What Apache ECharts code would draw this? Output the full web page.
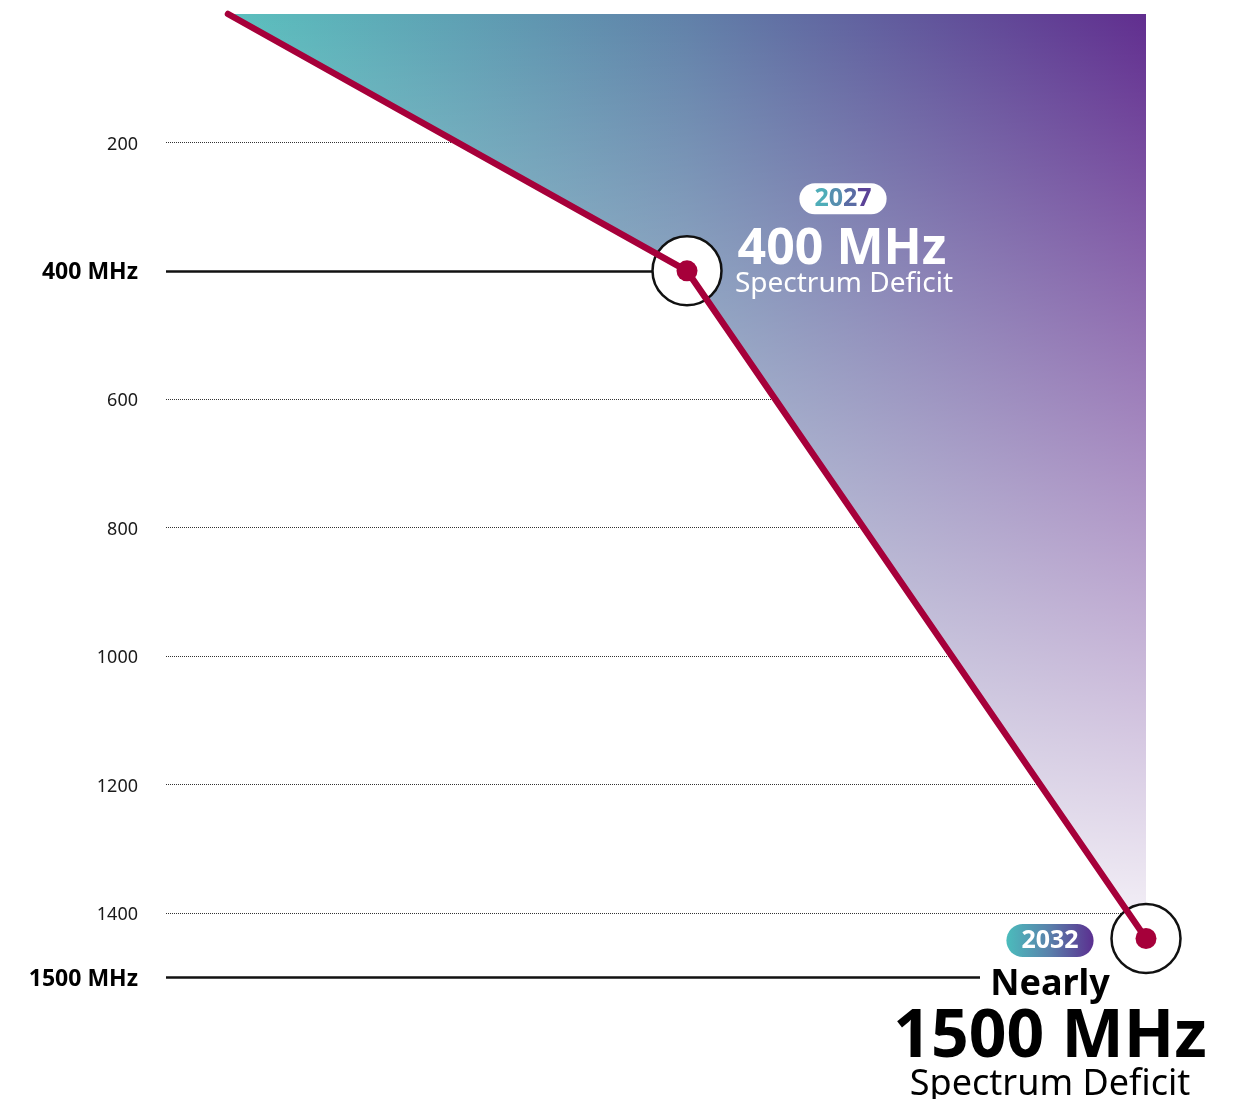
<!DOCTYPE html>
<html>
<head>
<meta charset="utf-8">
<script src="https://cdn.jsdelivr.net/npm/echarts@6/dist/echarts.min.js"></script>
<style>
  html, body { margin: 0; padding: 0; background: #fff; }
  #chart { width: 1238px; height: 1099px; }
</style>
</head>
<body>
<div id="chart"></div>
<script>
// Projected spectrum deficit (MHz) by year
const years = [2022, 2027, 2032];
const deficit = [0, 400, 1440];

// Value-axis reference levels and their labels
const tickValues = [200, 400, 600, 800, 1000, 1200, 1400, 1500];
const tickLabels = ['200', '400 MHz', '600', '800', '1000', '1200', '1400', '1500 MHz'];
const keyLevels = [400, 1500];

// Callout text for the highlighted years
const yearBadges = ['2027', '2032'];
const headlines = ['400 MHz', '1500 MHz'];
const qualifier = 'Nearly';
const caption = 'Spectrum Deficit';

const FONT = '"Noto Sans", "Open Sans", sans-serif';
const CRIMSON = '#a6003a';
const INK = '#111';
const HUE_STOPS = ['#5bc0be', '#6181a9', '#612e8f'];
const BADGE_STOPS = ['#4bbcbc', '#5a80ab', '#5b2f90'];

function hGrad(stops) {
  return new echarts.graphic.LinearGradient(0, 0, 1, 0,
    stops.map((c, i) => ({ offset: i / (stops.length - 1), color: c })));
}

const points = years.map((y, i) => [y, deficit[i]]);
const lastYear = years[years.length - 1];

// Horizontal reference lines: dotted guides, solid rules for the key levels
const guideLines = tickValues.map((v, i) => {
  const key = keyLevels.indexOf(v) >= 0;
  let end;
  const hit = deficit.indexOf(v);
  if (key && hit >= 0) end = { xAxis: years[hit], yAxis: v };
  else if (key) end = { x: 980, yAxis: v };
  else end = { xAxis: lastYear, yAxis: v };
  return [{
    x: 166,
    yAxis: v,
    lineStyle: key
      ? { color: INK, width: 2.5, type: 'solid' }
      : { color: '#333', width: 1, type: 'dotted' },
    label: {
      show: true,
      position: 'start',
      distance: 28,
      offset: [0, 2],
      formatter: tickLabels[i],
      fontFamily: FONT,
      fontSize: key ? 23 : 18,
      fontWeight: key ? 'bold' : 'normal',
      color: key ? '#000' : '#1a1a1a'
    }
  }, end];
});

// Year text tinted character by character along the teal-to-purple ramp
function tintedBadge(text, fontSize) {
  const rich = {};
  const parts = text.split('').map((ch, i) => {
    const t = (i + 0.5) / text.length;
    rich['c' + i] = {
      color: echarts.color.lerp(t, BADGE_STOPS),
      fontSize: fontSize, fontWeight: 'bold', fontFamily: FONT
    };
    return '{c' + i + '|' + ch + '}';
  });
  return { formatter: parts.join(''), rich: rich };
}

function note(idx, text, offset, style) {
  return {
    coord: points[idx],
    value: text,
    label: Object.assign({
      show: true,
      position: 'inside',
      offset: offset,
      formatter: text,
      align: 'center',
      verticalAlign: 'middle',
      fontFamily: FONT
    }, style)
  };
}

const callouts = [
  note(1, yearBadges[0], [156, -72], Object.assign({
    fontSize: 25, fontWeight: 'bold',
    backgroundColor: '#fff', borderRadius: 16, padding: [0, 15], lineHeight: 31
  }, tintedBadge(yearBadges[0], 25))),
  note(1, headlines[0], [155, -21], { fontSize: 50, fontWeight: 'bold', color: '#fff' }),
  note(1, caption, [157, 13], { fontSize: 28, color: '#fff' }),
  note(2, yearBadges[1], [-96, 2], {
    fontSize: 25, fontWeight: 'bold', color: '#fff',
    backgroundColor: hGrad(BADGE_STOPS), borderRadius: 17, padding: [0, 15], lineHeight: 33
  }),
  note(2, qualifier, [-96, 46], { fontSize: 36, fontWeight: 'bold', color: '#000' }),
  note(2, headlines[1], [-96, 100], { fontSize: 66, fontWeight: 'bold', color: '#000' }),
  note(2, caption, [-96, 146], { fontSize: 36, color: '#000' })
];

const chart = echarts.init(document.getElementById('chart'), null, { renderer: 'canvas' });

chart.setOption({
  animation: false,
  backgroundColor: '#fff',
  grid: { left: 228, right: 92, top: 14, bottom: 122 },
  xAxis: { type: 'value', min: years[0], max: lastYear, show: false },
  yAxis: { type: 'value', inverse: true, min: 0, max: tickValues[tickValues.length - 1], show: false },
  series: [
    {
      // coloured band between the curve and the top edge
      type: 'line',
      data: points,
      symbol: 'none',
      clip: false,
      silent: true,
      z: 2,
      lineStyle: { width: 0 },
      areaStyle: { origin: 'start', color: hGrad(HUE_STOPS), opacity: 1 },
      markLine: {
        silent: true,
        z: 1,
        symbol: ['none', 'none'],
        animation: false,
        data: guideLines
      }
    },
    {
      // fade of the band toward white lower down
      type: 'line',
      data: points,
      symbol: 'none',
      clip: false,
      silent: true,
      z: 3,
      lineStyle: { width: 0 },
      areaStyle: {
        origin: 'start',
        opacity: 1,
        color: new echarts.graphic.LinearGradient(0, 0, 0, 1, [
          { offset: 0, color: 'rgba(255,255,255,0)' },
          { offset: 1, color: 'rgba(255,255,255,0.94)' }
        ])
      }
    },
    {
      // rings round the highlighted years
      type: 'scatter',
      data: points.slice(1),
      symbol: 'circle',
      symbolSize: 69,
      clip: false,
      silent: true,
      z: 4,
      itemStyle: { color: '#fff', borderColor: INK, borderWidth: 2.5, opacity: 1 }
    },
    {
      type: 'line',
      data: points.map((p, i) => (i === 0 ? { value: p, symbol: 'none' } : { value: p })),
      symbol: 'circle',
      symbolSize: 21,
      showSymbol: true,
      clip: false,
      silent: true,
      z: 5,
      lineStyle: { color: CRIMSON, width: 6.5, cap: 'round', join: 'round' },
      itemStyle: { color: CRIMSON, opacity: 1 },
      markPoint: {
        silent: true,
        z: 6,
        symbol: 'circle',
        symbolSize: 1,
        itemStyle: { color: 'rgba(0,0,0,0)' },
        animation: false,
        data: callouts
      }
    }
  ]
});
</script>
</body>
</html>
